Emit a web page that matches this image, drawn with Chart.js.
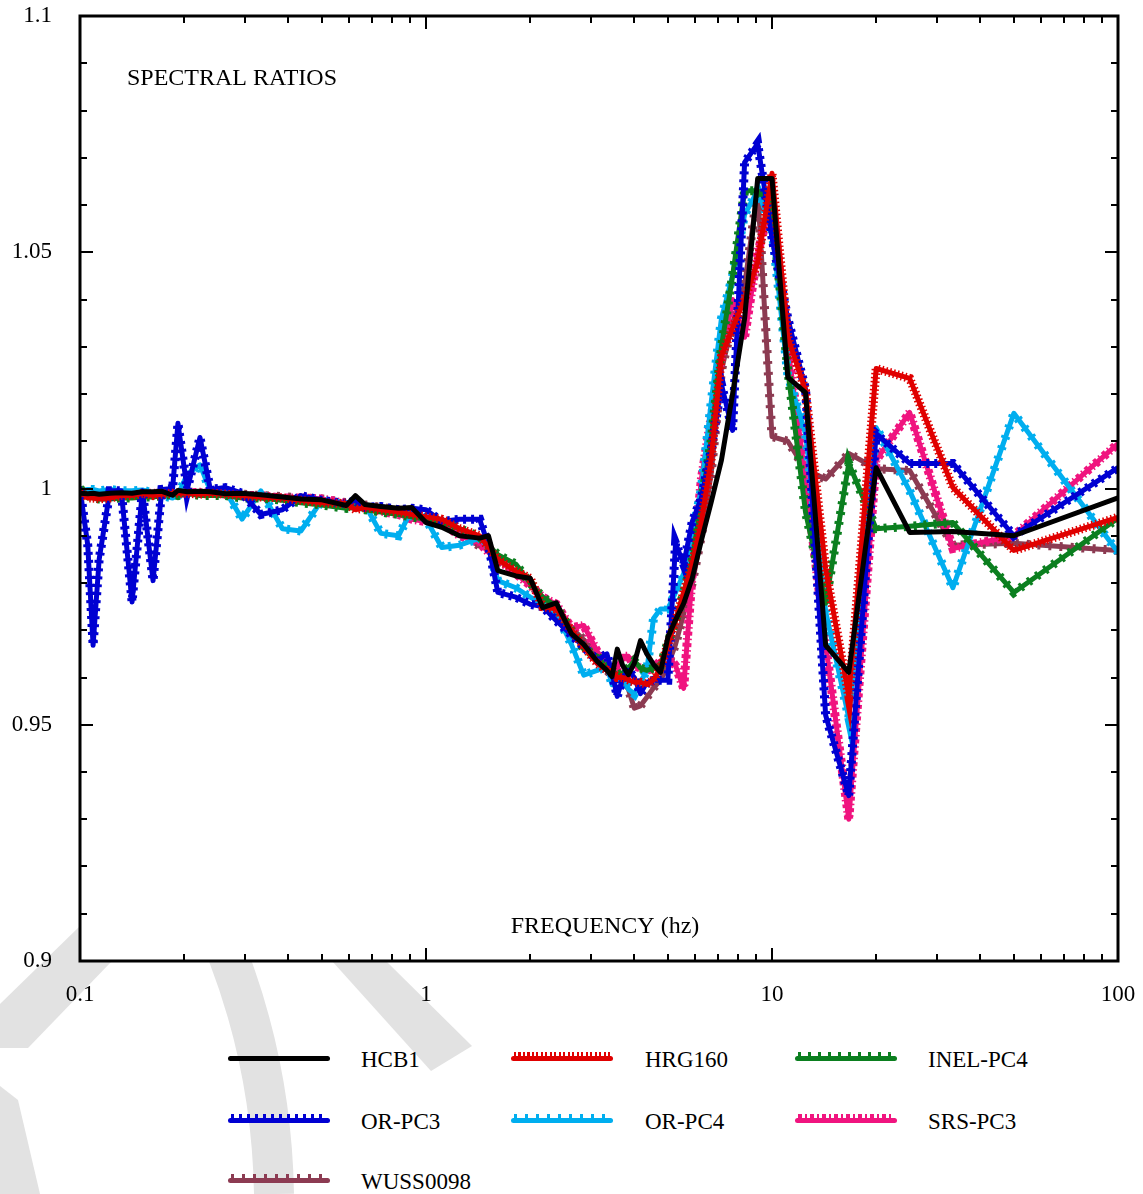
<!DOCTYPE html>
<html>
<head>
<meta charset="utf-8">
<script src="https://cdn.jsdelivr.net/npm/chart.js@4.4.1/dist/chart.umd.min.js"></script>
<style>
  html, body { margin: 0; padding: 0; background: #fff; }
  #page { position: relative; width: 1143px; height: 1194px; overflow: hidden;
          font-family: 'Liberation Serif', 'Times New Roman', serif; color: #000; }
  #wm { position: absolute; left: 0; top: 0; z-index: 0; }
  #chartBox { position: absolute; left: 0; top: 0; width: 1143px; height: 1020px; z-index: 1; }
  .swatch { position: absolute; width: 102px; height: 10px; z-index: 2; }
  .swatch .bar { position: absolute; left: 0; right: 0; bottom: 0; height: 5px; border-radius: 3px; }
  .swatch .teeth { position: absolute; left: 3px; right: 3px; top: 1px; height: 4px; }
  .lbl { position: absolute; font-size: 23px; line-height: 24px; white-space: nowrap; z-index: 2; }
</style>
</head>
<body>
<div id="page">
  <svg id="wm" width="1143" height="1194">
    <g fill="#e2e2e2" stroke="none">
      <polygon points="80,926 112,961 28,1048 0,1048 0,1004"/>
      <polygon points="332,961 386,961 472,1046 431,1071"/>
      <polygon points="0,1086 18,1100 40,1194 0,1194"/>
    </g>
    <path d="M 228 955 Q 272 1070 274 1194" stroke="#e2e2e2" stroke-width="40" fill="none"/>
  </svg>
  <div id="chartBox"><canvas id="spectral" width="1143" height="1020"></canvas></div>
  <div id="legend"></div>
</div>
<script>
(function () {
    'use strict';

    // frequencies (Hz) of the sampled points
    const freq = [
        0.1, 0.1053, 0.1091, 0.1136, 0.122, 0.1316, 0.1414, 0.1515, 0.1626, 0.1724,
        0.1852, 0.1919, 0.2041, 0.2222, 0.2381, 0.2632, 0.2941, 0.3333, 0.3846, 0.4348,
        0.5, 0.5882, 0.625, 0.6667, 0.7407, 0.8333, 0.9091, 1, 1.111, 1.25,
        1.429, 1.515, 1.613, 1.818, 2, 2.174, 2.381, 2.632, 2.857, 3.125,
        3.333, 3.448, 3.571, 3.704, 3.846, 4, 4.167, 4.348, 4.545, 4.762,
        5, 5.263, 5.556, 5.882, 6.25, 6.667, 7.143, 7.692, 8.333, 9.091,
        10, 11.11, 12.5, 14.29, 16.67, 20, 25, 33.33, 50, 100
    ];

    const hcb1 = [
        0.999, 0.9989, 0.999, 0.9988, 0.999, 0.9991, 0.999, 0.9993, 0.9993, 0.9994,
        0.9986, 0.9996, 0.9993, 0.9994, 0.9993, 0.9989, 0.999, 0.9987, 0.9982, 0.9978,
        0.9976, 0.9964, 0.9985, 0.9966, 0.9962, 0.9958, 0.996, 0.9928, 0.9918, 0.990,
        0.9895, 0.990, 0.9826, 0.9815, 0.981, 0.9748, 0.9758, 0.9693, 0.967, 0.9634,
        0.9615, 0.9602, 0.966, 0.9625, 0.9606, 0.963, 0.9678, 0.965, 0.9628, 0.9611,
        0.9685, 0.9722, 0.9757, 0.981, 0.989, 0.997, 1.006, 1.020, 1.036, 1.0656,
        1.0656, 1.0235, 1.0203, 0.9668, 0.9611, 1.0044, 0.9907, 0.9909, 0.990, 0.998
    ];

    const hrg160 = [
        0.9995, 0.998, 0.998, 0.9978, 0.998, 0.9985, 0.9985, 0.999, 0.9985, 0.9988,
        0.999, 0.999, 0.999, 0.9988, 0.999, 0.9988, 0.9985, 0.9982, 0.998, 0.9975,
        0.997, 0.9968, 0.9955, 0.996, 0.9955, 0.995, 0.9945, 0.994, 0.9935, 0.9915,
        0.990, 0.9875, 0.985, 0.9825, 0.981, 0.975, 0.9745, 0.970, 0.9665, 0.963,
        0.9615, 0.9615, 0.960, 0.960, 0.9595, 0.959, 0.959, 0.9585, 0.9595, 0.962,
        0.967, 0.972, 0.978, 0.984, 0.993, 1.006, 1.028, 1.034, 1.040, 1.048,
        1.0667, 1.032, 1.0207, 0.983, 0.956, 1.0254, 1.0233, 1.0002, 0.9869, 0.9939
    ];

    const inelPc4 = [
        1.000, 0.9985, 0.998, 0.9978, 0.9978, 0.998, 0.998, 0.9982, 0.9982, 0.9985,
        0.9988, 0.9985, 0.999, 0.9985, 0.9985, 0.9985, 0.998, 0.998, 0.9975, 0.997,
        0.9965, 0.9958, 0.996, 0.9955, 0.995, 0.9945, 0.994, 0.9935, 0.993, 0.9915,
        0.9898, 0.988, 0.986, 0.984, 0.980, 0.977, 0.975, 0.970, 0.966, 0.9645,
        0.962, 0.9615, 0.9605, 0.961, 0.962, 0.9635, 0.962, 0.9615, 0.962, 0.9625,
        0.9675, 0.972, 0.978, 0.985, 0.997, 1.010, 1.030, 1.045, 1.063, 1.063,
        1.060, 1.025, 0.995, 0.9757, 1.0053, 0.9915, 0.992, 0.9928, 0.978, 0.9937
    ];

    const orPc3 = [
        1.000, 0.988, 0.9668, 0.985, 0.9995, 0.9995, 0.976, 0.9995, 0.9805, 0.9998,
        1.000, 1.0138, 0.9998, 1.0108, 0.9998, 1.0002, 0.999, 0.9945, 0.9955, 0.9985,
        0.9975, 0.9968, 0.9975, 0.996, 0.9962, 0.9955, 0.9958, 0.9955, 0.993, 0.9935,
        0.9935, 0.988, 0.978, 0.977, 0.9755, 0.975, 0.972, 0.969, 0.9665, 0.9636,
        0.965, 0.961, 0.956, 0.960, 0.9615, 0.960, 0.9566, 0.959, 0.9594, 0.9594,
        0.9594, 0.9884, 0.984, 0.993, 0.998, 1.008, 1.022, 1.0123, 1.069, 1.073,
        1.053, 1.036, 1.021, 0.952, 0.935, 1.0116, 1.0053, 1.0053, 0.990, 1.0044
    ];

    const orPc4 = [
        0.9995, 0.9998, 0.9998, 0.9995, 0.9998, 0.9995, 0.9995, 0.9997, 0.999, 0.9985,
        0.998, 0.9985, 1.003, 1.005, 0.9995, 0.9995, 0.9935, 0.9995, 0.9915, 0.991,
        0.9975, 0.9965, 0.997, 0.9965, 0.9905, 0.990, 0.9955, 0.9935, 0.9875, 0.988,
        0.9895, 0.9875, 0.9805, 0.979, 0.977, 0.9755, 0.9735, 0.967, 0.9605, 0.9615,
        0.9625, 0.9585, 0.9605, 0.9605, 0.9575, 0.9565, 0.959, 0.9615, 0.9725, 0.9745,
        0.9745, 0.978, 0.982, 0.990, 1.000, 1.018, 1.036, 1.045, 1.058, 1.063,
        1.055, 1.024, 1.0116, 0.974, 0.9515, 1.0129, 0.9995, 0.979, 1.0159, 0.9865
    ];

    const srsPc3 = [
        0.9995, 0.9985, 0.9985, 0.998, 0.9985, 0.9985, 0.9988, 0.999, 0.999, 0.999,
        0.9988, 0.999, 0.999, 0.9992, 0.999, 0.9988, 0.9985, 0.9985, 0.998, 0.998,
        0.9978, 0.9968, 0.9965, 0.996, 0.9952, 0.9945, 0.9935, 0.993, 0.9928, 0.990,
        0.9885, 0.9865, 0.985, 0.982, 0.9795, 0.977, 0.9755, 0.9705, 0.971, 0.9655,
        0.9625, 0.961, 0.962, 0.9645, 0.9645, 0.9625, 0.962, 0.9615, 0.962, 0.9635,
        0.9645, 0.9625, 0.9577, 0.982, 1.002, 1.015, 1.028, 1.040, 1.032, 1.050,
        1.061, 1.030, 1.002, 0.967, 0.930, 1.006, 1.0161, 0.9873, 0.990, 1.0095
    ];

    const wuss0098 = [
        0.9995, 0.999, 0.9988, 0.9985, 0.9988, 0.999, 0.999, 0.9992, 0.999, 0.999,
        0.999, 0.9992, 0.9993, 0.999, 0.9992, 0.999, 0.9988, 0.9985, 0.9983, 0.998,
        0.9978, 0.997, 0.9972, 0.9965, 0.996, 0.9955, 0.995, 0.9935, 0.9925, 0.9905,
        0.9878, 0.988, 0.985, 0.982, 0.980, 0.9765, 0.974, 0.9705, 0.968, 0.9645,
        0.9615, 0.9605, 0.9595, 0.959, 0.9575, 0.9535, 0.954, 0.9558, 0.9578, 0.9594,
        0.9625, 0.967, 0.9735, 0.980, 0.990, 1.003, 1.025, 1.035, 1.043, 1.063,
        1.011, 1.010, 1.004, 1.002, 1.0074, 1.0042, 1.0038, 0.988, 0.9884, 0.9869
    ];

    const xTickValues = [0.1, 1, 10, 100];
    const yTickValues = [0.9, 0.95, 1, 1.05, 1.1];

    const seriesNames  = ['HCB1', 'HRG160', 'INEL-PC4', 'OR-PC3', 'OR-PC4', 'SRS-PC3', 'WUSS0098'];
    const seriesValues = [hcb1, hrg160, inelPc4, orPc3, orPc4, srsPc3, wuss0098];
    const seriesColors = ['#000000', '#e00000', '#0b7f1f', '#0000d2', '#00aeef', '#f0147f', '#8c3b52'];
    // tooth pattern of the "comb" drawn along each line (null = plain line)
    const seriesComb   = [null, [1.5, 2.5], [3, 7], [3, 5], [3, 8], [4, 3, 1.5, 3], [3, 8]];
    // lower = drawn on top
    const seriesOrder  = [0, 2, 6, 4, 8, 10, 12];

    const FONT = "'Liberation Serif', 'Times New Roman', serif";

    // ------------------------------------------------------------
    // datasets: one plain line per series + a dashed wide copy for the comb
    // ------------------------------------------------------------
    const datasets = [];
    seriesNames.forEach((name, i) => {
        const pts = freq.map((f, k) => ({ x: f, y: seriesValues[i][k] }));
        datasets.push({
            label: name,
            data: pts,
            borderColor: seriesColors[i],
            borderWidth: 5,
            pointRadius: 0,
            tension: 0,
            borderJoinStyle: 'round',
            borderCapStyle: 'round',
            order: seriesOrder[i]
        });
        if (seriesComb[i]) {
            datasets.push({
                label: name + ' comb',
                data: pts,
                borderColor: seriesColors[i],
                borderWidth: 9,
                borderDash: seriesComb[i],
                pointRadius: 0,
                tension: 0,
                order: seriesOrder[i] - 1
            });
        }
    });

    // ------------------------------------------------------------
    // frame, inward ticks and the two captions
    // ------------------------------------------------------------
    const frameTicks = {
        id: 'frameTicks',
        beforeDatasetsDraw(chart) {
            const { ctx, chartArea: a } = chart;
            ctx.save();
            ctx.fillStyle = '#fff';
            ctx.fillRect(a.left, a.top, a.right - a.left, a.bottom - a.top);
            ctx.restore();
        },
        afterDraw(chart) {
            const { ctx, chartArea: a, scales } = chart;
            const x = scales.x, y = scales.y;
            ctx.save();
            ctx.strokeStyle = '#000';
            ctx.lineCap = 'butt';
            ctx.lineWidth = 2;
            ctx.beginPath();
            for (let i = 0; i <= 20; i++) {
                const py = Math.round(y.getPixelForValue(0.9 + i * 0.01));
                const len = i % 5 === 0 ? 13 : 7;
                ctx.moveTo(a.left, py);  ctx.lineTo(a.left + len, py);
                ctx.moveTo(a.right, py); ctx.lineTo(a.right - len, py);
            }
            [0.1, 1, 10].forEach(d => {
                for (let k = 1; k <= 10; k++) {
                    const px = Math.round(x.getPixelForValue(d * k));
                    const len = (k === 1 || k === 10) ? 13 : 7;
                    ctx.moveTo(px, a.bottom); ctx.lineTo(px, a.bottom - len);
                    ctx.moveTo(px, a.top);    ctx.lineTo(px, a.top + len);
                }
            });
            ctx.stroke();

            ctx.lineWidth = 3;
            ctx.strokeRect(a.left, a.top, a.right - a.left, a.bottom - a.top);

            ctx.fillStyle = '#000';
            ctx.font = '24px ' + FONT;
            ctx.textBaseline = 'middle';
            ctx.textAlign = 'left';
            ctx.fillText('SPECTRAL RATIOS', 127, 79);
            ctx.textAlign = 'center';
            ctx.fillText('FREQUENCY (hz)', 605, 927);
            ctx.restore();
        }
    };

    Chart.defaults.font.family = FONT;
    Chart.defaults.font.size = 23;
    Chart.defaults.color = '#000';

    new Chart(document.getElementById('spectral'), {
        type: 'line',
        data: { datasets },
        options: {
            responsive: false,
            animation: false,
            layout: { padding: { left: 0, right: 25, top: 16, bottom: 0 } },
            plugins: { legend: { display: false }, tooltip: { enabled: false } },
            scales: {
                x: {
                    type: 'logarithmic',
                    min: 0.1,
                    max: 100,
                    grid: { display: false, drawTicks: false },
                    border: { display: false },
                    afterBuildTicks: s => { s.ticks = xTickValues.map(v => ({ value: v })); },
                    afterFit: s => {
                        s.height = 59;
                        s.paddingLeft = 0; s.paddingRight = 0;
                    },
                    ticks: {
                        padding: 20,
                        maxRotation: 0,
                        autoSkip: false,
                        callback: v => String(v)
                    }
                },
                y: {
                    min: 0.9,
                    max: 1.1,
                    grid: { display: false, drawTicks: false },
                    border: { display: false },
                    afterBuildTicks: s => { s.ticks = yTickValues.map(v => ({ value: v })); },
                    afterFit: s => {
                        s.width = 80;
                        s.paddingTop = 0; s.paddingBottom = 0;
                    },
                    ticks: {
                        padding: 28,
                        autoSkip: false,
                        callback: v => String(v)
                    }
                }
            }
        },
        plugins: [frameTicks]
    });

    // ------------------------------------------------------------
    // legend (3 columns)
    // ------------------------------------------------------------
    const legendCols  = [228, 511, 795];
    const legendLabel = [361, 645, 928];
    const legendRows  = [1058, 1120, 1180];

    function combGradient(color, dash) {
        const stops = [];
        let pos = 0;
        for (let k = 0; k < dash.length; k++) {
            const c = k % 2 === 0 ? color : 'transparent';
            stops.push(`${c} ${pos}px ${pos + dash[k]}px`);
            pos += dash[k];
        }
        return `repeating-linear-gradient(to right, ${stops.join(', ')})`;
    }

    const legend = document.getElementById('legend');
    seriesNames.forEach((name, i) => {
        const col = i % 3, row = Math.floor(i / 3);
        const cy = legendRows[row];

        const sw = document.createElement('div');
        sw.className = 'swatch';
        sw.style.left = legendCols[col] + 'px';
        sw.style.top = (cy - 7) + 'px';
        const bar = document.createElement('div');
        bar.className = 'bar';
        bar.style.background = seriesColors[i];
        sw.appendChild(bar);
        if (seriesComb[i]) {
            const teeth = document.createElement('div');
            teeth.className = 'teeth';
            teeth.style.background = combGradient(seriesColors[i], seriesComb[i].map(v => Math.max(v, 2)));
            sw.appendChild(teeth);
        }
        legend.appendChild(sw);

        const lbl = document.createElement('div');
        lbl.className = 'lbl';
        lbl.textContent = name;
        lbl.style.left = legendLabel[col] + 'px';
        lbl.style.top = (cy - 10) + 'px';
        legend.appendChild(lbl);
    });
})();
</script>
</body>
</html>
